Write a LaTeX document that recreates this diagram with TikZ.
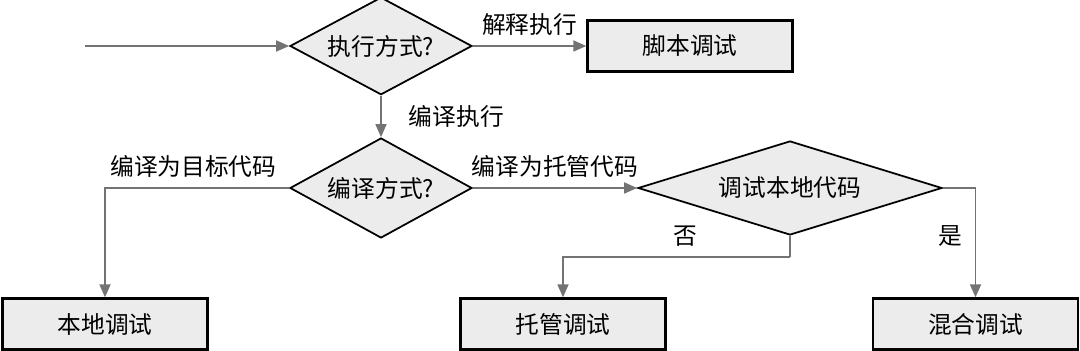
\documentclass[tikz,border=0pt]{standalone}
\usepackage{fontspec}
\newfontfamily\cjk{Noto Sans CJK SC}
\usetikzlibrary{shapes.geometric}
\usetikzlibrary{arrows.meta}

\begin{document}
\begin{tikzpicture}[
    font=\cjk\fontsize{13.5}{16}\selectfont,
    decision/.style={diamond, draw=black, line width=1pt, fill=gray!15, inner sep=0pt},
    debugbox/.style={rectangle, draw=black, line width=1.3pt, fill=gray!15,
        minimum width=4.1cm, minimum height=1.02cm},
    flow/.style={draw=gray!90!black, line width=1pt, -{Triangle[length=2.6mm,width=2.2mm]}},
    plain/.style={draw=gray!90!black, line width=1pt}
]
    \useasboundingbox (0,0) rectangle (21.6,7.02);

    \node[decision, aspect=1.9, minimum width=3.64cm, minimum height=1.95cm] (mode) at (7.62,6.1) {执行方式?};
    \node[decision, aspect=1.8, minimum width=3.64cm, minimum height=2.0cm] (compile) at (7.62,3.26) {编译方式?};
    \node[decision, aspect=3.2, minimum width=6.08cm, minimum height=1.88cm] (native) at (15.8,3.26) {调试本地代码};

    \node[debugbox] (script) at (13.8,6.1) {脚本调试};
    \node[debugbox] (local) at (2.1,0.54) {本地调试};
    \node[debugbox] (managed) at (11.26,0.54) {托管调试};
    \node[debugbox] (mixed) at (19.51,0.54) {混合调试};

    \coordinate (start) at (1.7,6.1);
    \coordinate (nobend) at (15.8,1.88);

    \draw[flow] (start) -- (mode.west);
    \draw[flow] (mode.east) -- (script.west) node[pos=0.5,above,yshift=2pt] {解释执行};
    \draw[flow] (mode.south) -- (compile.north) node[pos=0.5,right,xshift=12pt] {编译执行};
    \draw[flow] (compile.west) -| (local.north) node[pos=0.26,above,yshift=2pt] {编译为目标代码};
    \draw[flow] (compile.east) -- (native.west) node[pos=0.5,above,yshift=2pt] {编译为托管代码};
    \draw[flow] (native.east) -| (mixed.north) node[pos=0.72,left,xshift=-4pt] {是};
    \draw[plain] (native.south) -- (nobend);
    \draw[flow] (nobend) -| (managed.north) node[pos=0.23,above,yshift=2pt] {否};
\end{tikzpicture}
\end{document}
